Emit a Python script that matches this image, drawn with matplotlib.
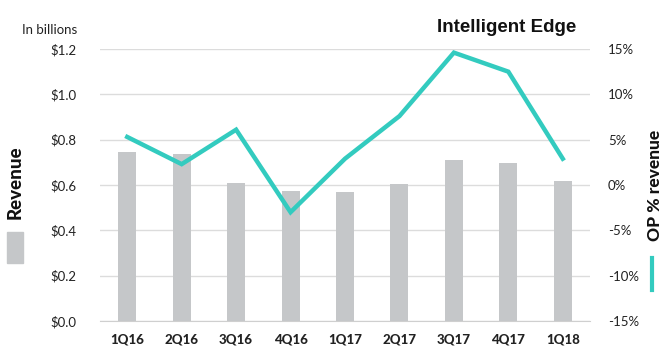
import matplotlib
matplotlib.use("Agg")
import matplotlib.pyplot as plt
from matplotlib.patches import Rectangle
from matplotlib.lines import Line2D

quarters = ["1Q16", "2Q16", "3Q16", "4Q16", "1Q17", "2Q17", "3Q17", "4Q17", "1Q18"]
revenue = [0.747, 0.738, 0.609, 0.573, 0.569, 0.604, 0.710, 0.696, 0.618]
op_pct = [5.3, 2.3, 6.1, -3.0, 2.9, 7.6, 14.6, 12.5, 2.9]
left_ticks = [0.0, 0.2, 0.4, 0.6, 0.8, 1.0, 1.2]
right_ticks = [-15, -10, -5, 0, 5, 10, 15]

bar_color = "#c5c7c9"
line_color = "#33cbbf"
grid_color = "#dcdcdc"
txt = "#222222"

plt.rcParams['font.family'] = ['Lato', 'DejaVu Sans']

fig = plt.figure(figsize=(6.68, 3.56), dpi=100)
ax = fig.add_axes([100/668, 1 - 321/356, 490/668, 272/356])
ax2 = ax.twinx()

x = list(range(len(quarters)))
ax.bar(x, revenue, width=0.33, color=bar_color, zorder=2)
ax.set_xlim(-0.5, len(quarters) - 0.5)
ax.set_ylim(0, 1.2)
ax.set_yticks(left_ticks)
ax.set_yticklabels([f"${v:.1f}" for v in left_ticks], fontsize=9.5, color=txt)
ax.set_xticks(x)
ax.set_xticklabels(quarters, fontsize=9.5, fontweight=900, color=txt)
ax.tick_params(axis='x', length=0, pad=9)
ax.tick_params(axis='y', length=0, pad=17)
ax.grid(axis='y', color=grid_color, linewidth=1, zorder=0)
ax.set_axisbelow(True)
for s in ["top", "right", "left"]:
    ax.spines[s].set_visible(False)
ax.spines["bottom"].set_color("#cfcfcf")

ax2.plot(x, op_pct, color=line_color, linewidth=3.2, solid_joinstyle='miter', zorder=3)
ax2.set_ylim(-15, 15)
ax2.set_yticks(right_ticks)
ax2.set_yticklabels([f"{v}%" for v in right_ticks], fontsize=9.5, color=txt)
ax2.tick_params(axis='y', length=0, pad=13)
for s in ["top", "right", "left", "bottom"]:
    ax2.spines[s].set_visible(False)

fig.text(22/668, 1 - 30/356, "In billions", fontsize=9.5, color=txt, ha='left', va='center')
fig.text(576/668, 1 - 28/356, "Intelligent Edge", fontsize=13.5, fontweight='bold',
         family=['Liberation Sans', 'DejaVu Sans'], color="#111111", ha='right', va='center')

fig.text(15/668, 1 - 182/356, "Revenue", fontsize=13.5, fontweight=900, rotation=90,
         color="#111111", ha='center', va='center')
fig.patches.append(Rectangle((7/668, 1 - 263/356), 16/668, 31/356, transform=fig.transFigure,
                             color=bar_color))

fig.text(655/668, 1 - 185/356, "OP % revenue", fontsize=12.5, fontweight=900, rotation=90,
         color="#111111", ha='center', va='center')
fig.lines.append(Line2D([652/668, 652/668], [1 - 258/356, 1 - 290/356], transform=fig.transFigure,
                        color=line_color, linewidth=3))

fig.savefig("out.png", dpi=100)
